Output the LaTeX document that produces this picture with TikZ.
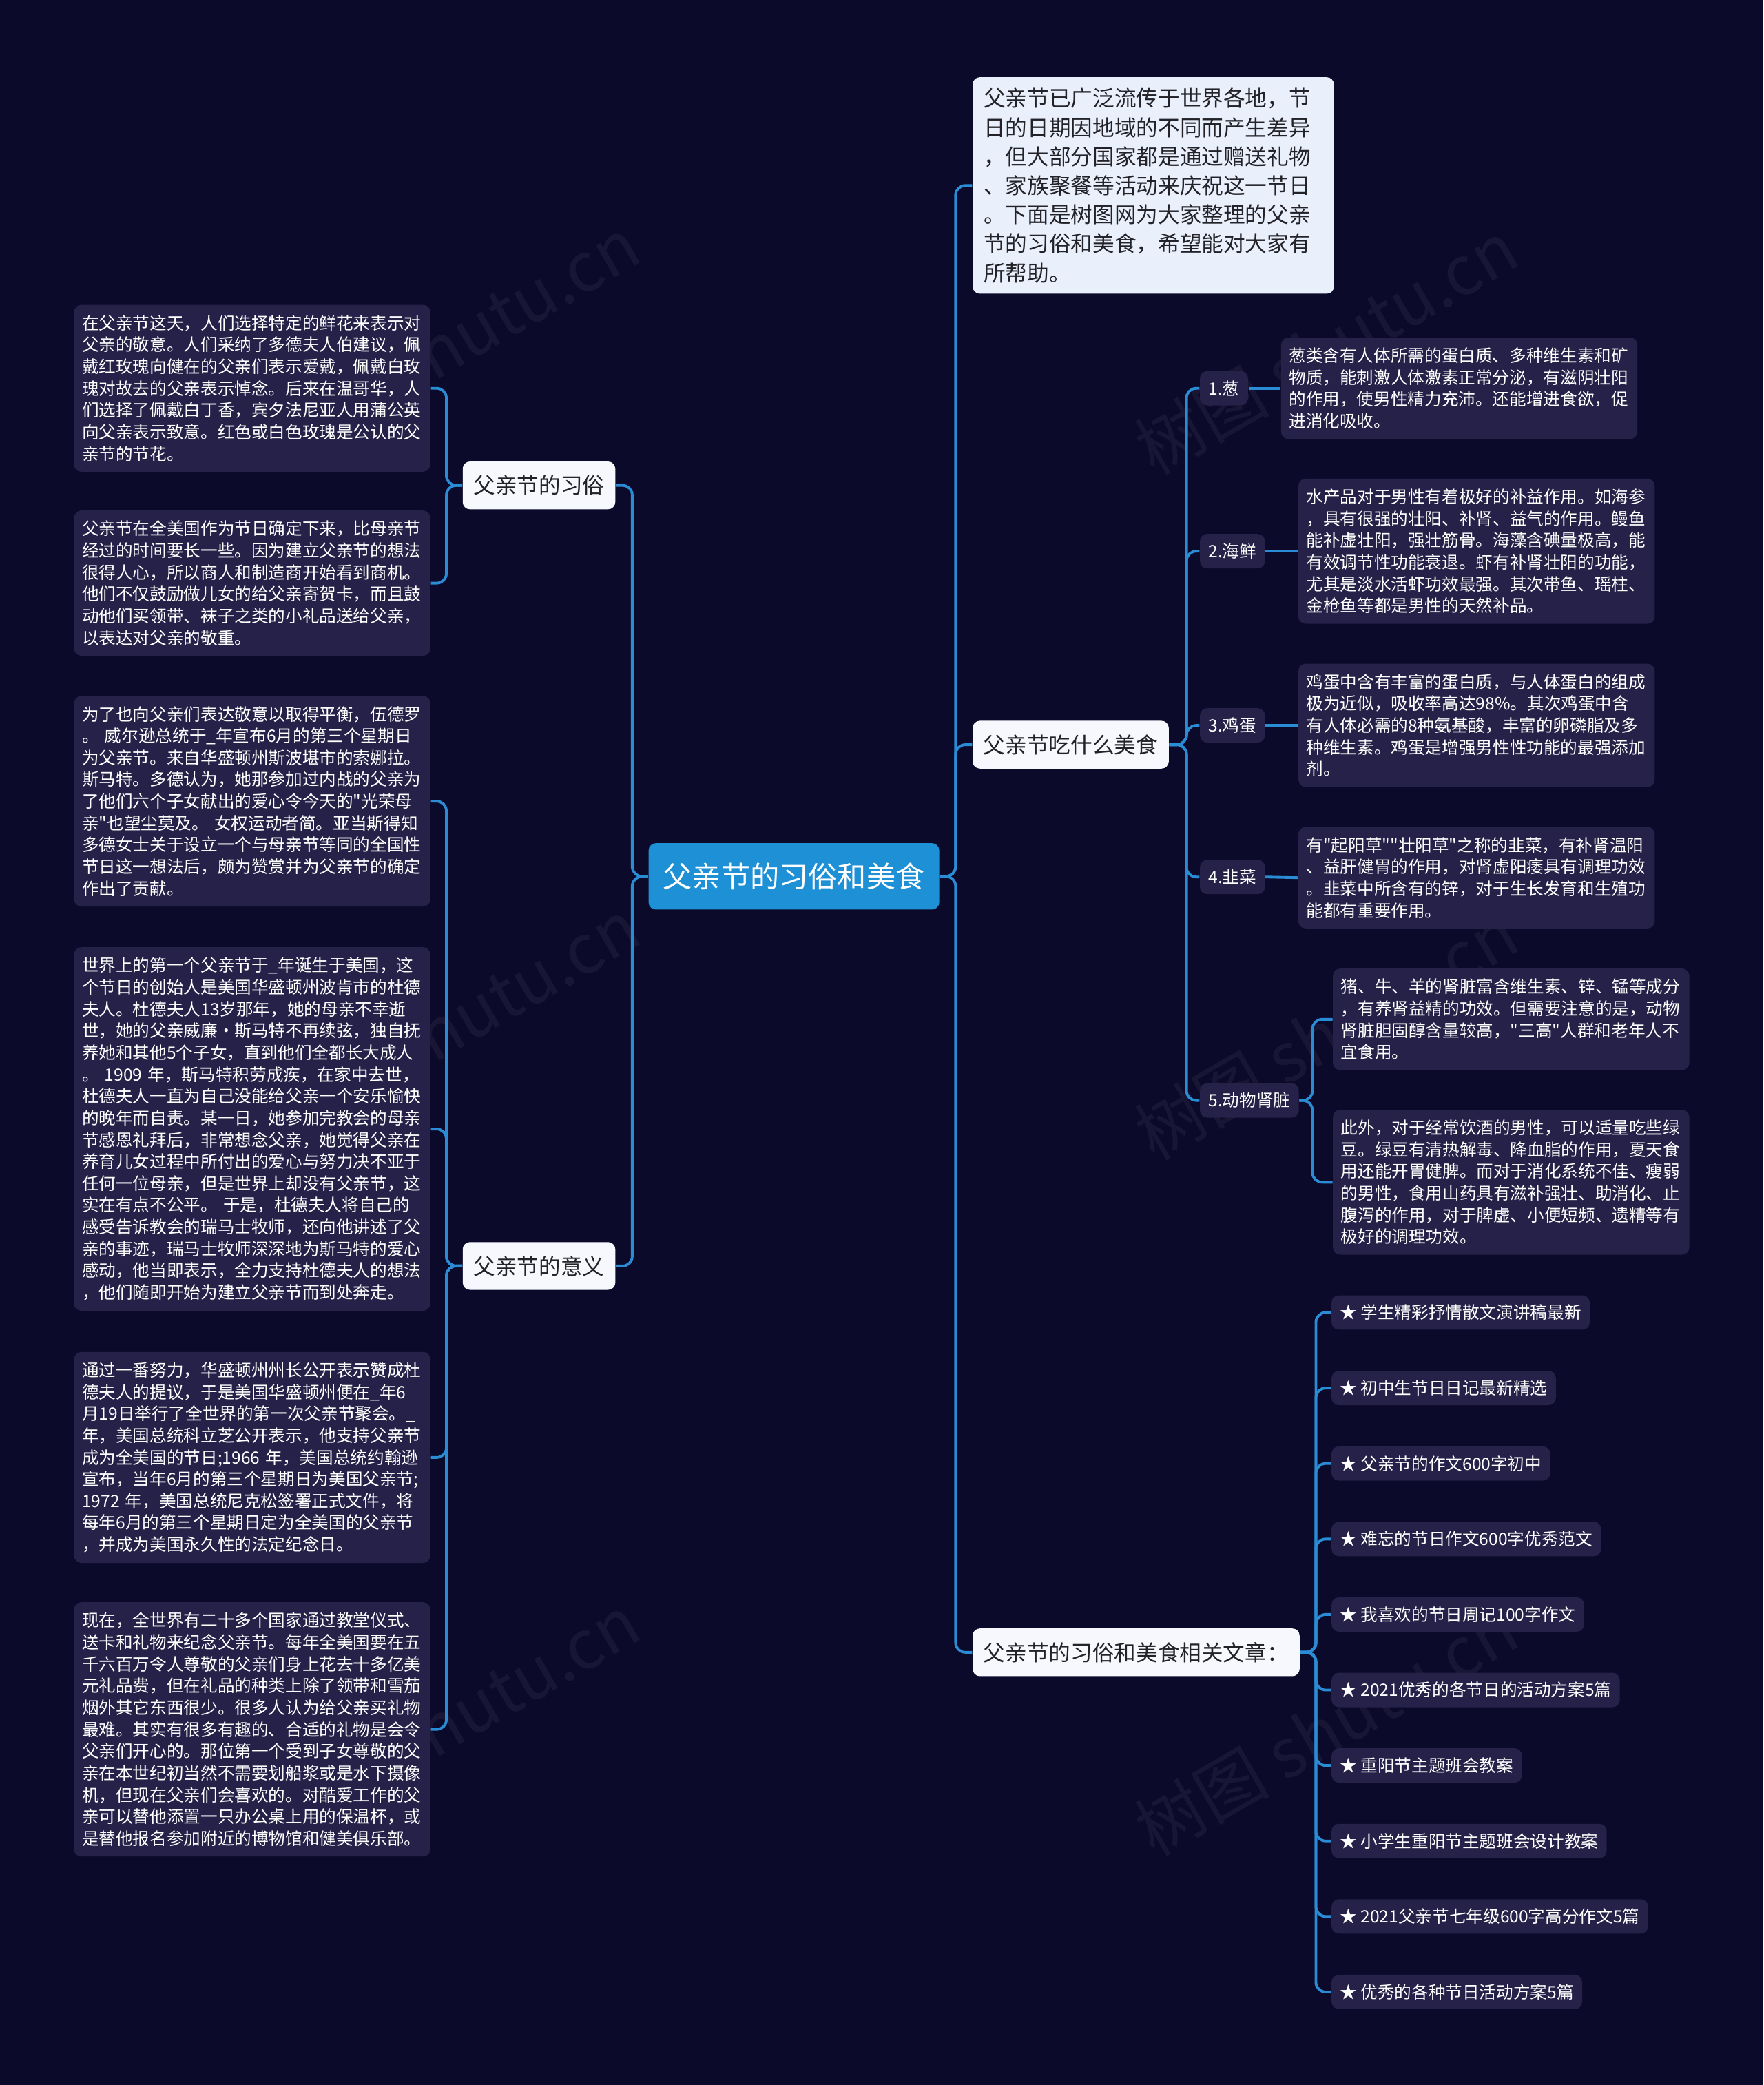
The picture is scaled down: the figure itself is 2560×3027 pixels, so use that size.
\documentclass[tikz,border=0pt]{standalone}
\usepackage{fontspec}
\setmainfont{Noto Sans CJK SC}
\newcommand{\dq}{\textquotedbl}
\definecolor{bgcol}{RGB}{12,10,42}
\definecolor{boxcol}{RGB}{37,33,72}
\definecolor{linecol}{RGB}{43,140,214}
\definecolor{rootcol}{RGB}{30,144,214}
\definecolor{topcol}{RGB}{246,248,253}
\definecolor{introcol}{RGB}{233,240,252}
\definecolor{darktext}{RGB}{34,34,40}

\begin{document}
\begin{tikzpicture}[x=0.01cm,y=-0.01cm,
                  link/.style={draw=linecol,line width=1.1pt,rounded corners=4pt},
                  leaf/.style={fill=boxcol,text=white,rounded corners=3pt,align=left,text width=140.5pt,
                    inner xsep=3.3pt,inner ysep=4.2pt,font=\fontsize{7pt}{9pt}\selectfont},
                  tag/.style={fill=boxcol,text=white,rounded corners=3pt,inner xsep=3.5pt,inner ysep=2pt,
                    minimum height=14.2pt,font=\fontsize{7pt}{9pt}\selectfont},
                  topic/.style={fill=topcol,text=darktext,rounded corners=3pt,inner xsep=4.5pt,inner ysep=2pt,
                    minimum height=19.7pt,font=\fontsize{9pt}{12pt}\selectfont}]
                  \useasboundingbox (0,0) rectangle (2560,3027);
                  \fill[bgcol] (0,0) rectangle (2560,3027);
                  \foreach \wx/\wy in {650/500,650/1490,650/2500,1925/505,1925/1500,1925/2510}
                    \node[rotate=30,text=white,opacity=0.05,font=\fontsize{28pt}{28pt}\selectfont] at (\wx,\wy) {树图 shutu.cn};

                  \node[fill=rootcol,text=white,rounded corners=3pt,inner xsep=6pt,inner ysep=2pt,minimum height=27.4pt,
                    font=\fontsize{12pt}{14pt}\selectfont] (root) at (1152.6,1272.3) {父亲节的习俗和美食};

                  \node[topic,anchor=east] (xisu) at (894,704.7) {父亲节的习俗};
                  \node[topic,anchor=east] (yiyi) at (894,1837.9) {父亲节的意义};

                  \node[leaf,anchor=east] (l1) at (625.5,563.7) {在父亲节这天，人们选择特定的鲜花来表示对\\父亲的敬意。人们采纳了多德夫人伯建议，佩\\戴红玫瑰向健在的父亲们表示爱戴，佩戴白玫\\瑰对故去的父亲表示悼念。后来在温哥华，人\\们选择了佩戴白丁香，宾夕法尼亚人用蒲公英\\向父亲表示致意。红色或白色玫瑰是公认的父\\亲节的节花。};
                  \node[leaf,anchor=east] (l2) at (625.5,846.6) {父亲节在全美国作为节日确定下来，比母亲节\\经过的时间要长一些。因为建立父亲节的想法\\很得人心，所以商人和制造商开始看到商机。\\他们不仅鼓励做儿女的给父亲寄贺卡，而且鼓\\动他们买领带、袜子之类的小礼品送给父亲，\\以表达对父亲的敬重。};
                  \node[leaf,anchor=east] (l3) at (625.5,1163.2) {为了也向父亲们表达敬意以取得平衡，伍德罗\\。~威尔逊总统于\_年宣布6月的第三个星期日\\为父亲节。来自华盛顿州斯波堪市的索娜拉。\\斯马特。多德认为，她那参加过内战的父亲为\\了他们六个子女献出的爱心令今天的\dq{}光荣母\\亲\dq{}也望尘莫及。~女权运动者简。亚当斯得知\\多德女士关于设立一个与母亲节等同的全国性\\节日这一想法后，颇为赞赏并为父亲节的确定\\作出了贡献。};
                  \node[leaf,anchor=east] (l4) at (625.5,1639.1) {世界上的第一个父亲节于\_年诞生于美国，这\\个节日的创始人是美国华盛顿州波肯市的杜德\\夫人。杜德夫人13岁那年，她的母亲不幸逝\\世，她的父亲威廉·斯马特不再续弦，独自抚\\养她和其他5个子女，直到他们全都长大成人\\。~1909~年，斯马特积劳成疾，在家中去世，\\杜德夫人一直为自己没能给父亲一个安乐愉快\\的晚年而自责。某一日，她参加完教会的母亲\\节感恩礼拜后，非常想念父亲，她觉得父亲在\\养育儿女过程中所付出的爱心与努力决不亚于\\任何一位母亲，但是世界上却没有父亲节，这\\实在有点不公平。~于是，杜德夫人将自己的\\感受告诉教会的瑞马士牧师，还向他讲述了父\\亲的事迹，瑞马士牧师深深地为斯马特的爱心\\感动，他当即表示，全力支持杜德夫人的想法\\，他们随即开始为建立父亲节而到处奔走。};
                  \node[leaf,anchor=east] (l5) at (625.5,2115.9) {通过一番努力，华盛顿州州长公开表示赞成杜\\德夫人的提议，于是美国华盛顿州便在\_年6\\月19日举行了全世界的第一次父亲节聚会。\_\\年，美国总统科立芝公开表示，他支持父亲节\\成为全美国的节日;1966~年，美国总统约翰逊\\宣布，当年6月的第三个星期日为美国父亲节;\\1972~年，美国总统尼克松签署正式文件，将\\每年6月的第三个星期日定为全美国的父亲节\\，并成为美国永久性的法定纪念日。};
                  \node[leaf,anchor=east] (l6) at (625.5,2510.7) {现在，全世界有二十多个国家通过教堂仪式、\\送卡和礼物来纪念父亲节。每年全美国要在五\\千六百万令人尊敬的父亲们身上花去十多亿美\\元礼品费，但在礼品的种类上除了领带和雪茄\\烟外其它东西很少。很多人认为给父亲买礼物\\最难。其实有很多有趣的、合适的礼物是会令\\父亲们开心的。那位第一个受到子女尊敬的父\\亲在本世纪初当然不需要划船浆或是水下摄像\\机，但现在父亲们会喜欢的。对酷爱工作的父\\亲可以替他添置一只办公桌上用的保温杯，或\\是替他报名参加附近的博物馆和健美俱乐部。};

                  \node[fill=introcol,text=darktext,rounded corners=3pt,align=left,text width=140pt,inner xsep=4.6pt,inner ysep=4.5pt,
                    font=\fontsize{9pt}{12pt}\selectfont,anchor=west] (intro) at (1411.3,269.3) {父亲节已广泛流传于世界各地，节\\日的日期因地域的不同而产生差异\\，但大部分国家都是通过赠送礼物\\、家族聚餐等活动来庆祝这一节日\\。下面是树图网为大家整理的父亲\\节的习俗和美食，希望能对大家有\\所帮助。};
                  \node[topic,anchor=west] (food) at (1411.3,1081.1) {父亲节吃什么美食};
                  \node[topic,anchor=west] (art) at (1411.3,2398.8) {父亲节的习俗和美食相关文章：};

                  \node[tag,anchor=west] (f1) at (1741.4,563.7) {1.葱};
                  \node[tag,anchor=west] (f2) at (1741.4,800.2) {2.海鲜};
                  \node[tag,anchor=west] (f3) at (1741.4,1053.1) {3.鸡蛋};
                  \node[tag,anchor=west] (f4) at (1741.4,1273.2) {4.韭菜};
                  \node[tag,anchor=west] (f5) at (1741.4,1597.6) {5.动物肾脏};

                  \node[leaf,anchor=west] (d1) at (1859.2,563.7) {葱类含有人体所需的蛋白质、多种维生素和矿\\物质，能刺激人体激素正常分泌，有滋阴壮阳\\的作用，使男性精力充沛。还能增进食欲，促\\进消化吸收。};
                  \node[leaf,anchor=west] (d2) at (1884.3,800.2) {水产品对于男性有着极好的补益作用。如海参\\，具有很强的壮阳、补肾、益气的作用。鳗鱼\\能补虚壮阳，强壮筋骨。海藻含碘量极高，能\\有效调节性功能衰退。虾有补肾壮阳的功能，\\尤其是淡水活虾功效最强。其次带鱼、瑶柱、\\金枪鱼等都是男性的天然补品。};
                  \node[leaf,anchor=west] (d3) at (1884.3,1053.1) {鸡蛋中含有丰富的蛋白质，与人体蛋白的组成\\极为近似，吸收率高达98\%。其次鸡蛋中含\\有人体必需的8种氨基酸，丰富的卵磷脂及多\\种维生素。鸡蛋是增强男性性功能的最强添加\\剂。};
                  \node[leaf,anchor=west] (d4) at (1884.3,1274.2) {有\dq{}起阳草\dq{}\dq{}壮阳草\dq{}之称的韭菜，有补肾温阳\\、益肝健胃的作用，对肾虚阳痿具有调理功效\\。韭菜中所含有的锌，对于生长发育和生殖功\\能都有重要作用。};
                  \node[leaf,anchor=west] (d5a) at (1934.5,1479.8) {猪、牛、羊的肾脏富含维生素、锌、锰等成分\\，有养肾益精的功效。但需要注意的是，动物\\肾脏胆固醇含量较高，\dq{}三高\dq{}人群和老年人不\\宜食用。};
                  \node[leaf,anchor=west] (d5b) at (1934.5,1716.3) {此外，对于经常饮酒的男性，可以适量吃些绿\\豆。绿豆有清热解毒、降血脂的作用，夏天食\\用还能开胃健脾。而对于消化系统不佳、瘦弱\\的男性，食用山药具有滋补强壮、助消化、止\\腹泻的作用，对于脾虚、小便短频、遗精等有\\极好的调理功效。};

                  \foreach \t [count=\i] in {学生精彩抒情散文演讲稿最新,初中生节日日记最新精选,父亲节的作文600字初中,
                    难忘的节日作文600字优秀范文,我喜欢的节日周记100字作文,2021优秀的各节日的活动方案5篇,重阳节主题班会教案,
                    小学生重阳节主题班会设计教案,2021父亲节七年级600字高分作文5篇,优秀的各种节日活动方案5篇}
                    \node[tag,anchor=west] (a\i) at (1932.5,{1905.5+109.6*(\i-1)}) {★ \t};

                  \draw[link] (root.west) -- ++(-23,0) |- (xisu.east);
                  \draw[link] (root.west) -- ++(-23,0) |- (yiyi.east);
                  \foreach \n in {l1,l2}
                    \draw[link] (xisu.west) -- ++(-23,0) |- (\n.east);
                  \foreach \n in {l3,l4,l5,l6}
                    \draw[link] (yiyi.west) -- ++(-23,0) |- (\n.east);
                  \foreach \n in {intro,food,art}
                    \draw[link] (root.east) -- ++(23,0) |- (\n.west);
                  \foreach \n in {f1,f2,f3,f4,f5}
                    \draw[link] (food.east) -- ++(25,0) |- (\n.west);
                  \foreach \i in {1,...,4}
                    \draw[link] (f\i.east) -- (d\i.west);
                  \draw[link] (f5.east) -- ++(19,0) |- (d5a.west);
                  \draw[link] (f5.east) -- ++(19,0) |- (d5b.west);
                  \foreach \i in {1,...,10}
                    \draw[link] (art.east) -- ++(23,0) |- (a\i.west);
              \end{tikzpicture}
\end{document}
